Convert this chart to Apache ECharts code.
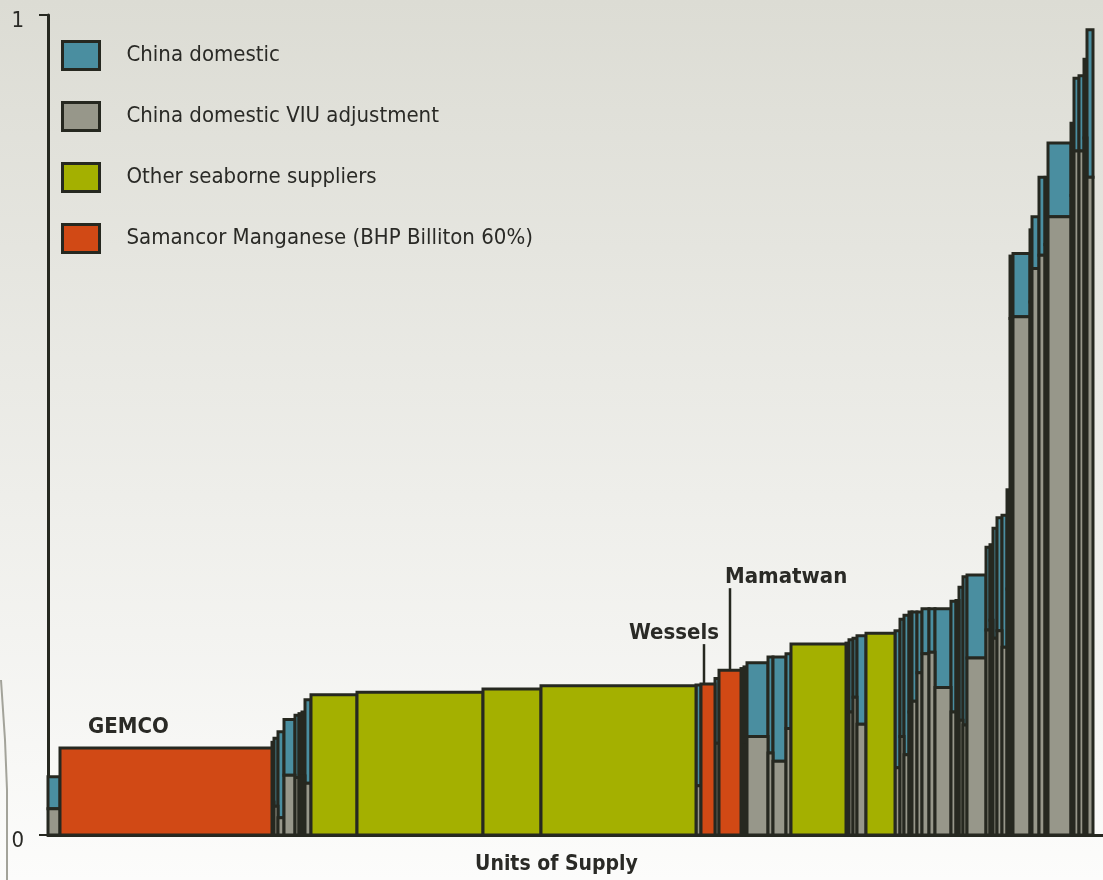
<!DOCTYPE html>
<html>
<head>
<meta charset="utf-8">
<script src="https://cdn.jsdelivr.net/npm/echarts@6/dist/echarts.min.js"></script>
<style>html,body{margin:0;padding:0;}#c{width:1103px;height:880px;}</style>
</head>
<body>
<div id="c"></div>
<script>
// ---- data ----
// supplier group of each block, in cost-curve order
const supplier = ['cd','sam','cd','cd','cd','cd','cd','cd','cd','cd','sea','sea','sea','sea','cd','sam','cd','sam','cd','cd','cd','cd','cd','cd','sea','cd','cd','cd','cd','sea','cd','cd','cd','cd','cd','cd','cd','cd','cd','cd','sea','cd','cd','cd','cd','cd','cd','cd','cd','cd','cd','cd','cd','cd','cd','cd','cd','cd','cd','cd','cd','cd'];
// width of each block (units of supply)
const supply = [1.2,21.2,0.2,0.4,0.6,1.1,0.4,0.3,0.3,0.6,4.6,12.6,5.8,15.5,0.5,1.4,0.4,2.2,0.3,0.3,2.1,0.5,1.3,0.5,5.5,0.3,0.4,0.4,0.9,2.9,0.5,0.4,0.5,0.3,0.5,0.5,0.7,0.6,1.6,0.5,0.3,0.4,0.4,1.9,0.4,0.3,0.4,0.5,0.5,0.3,0.3,1.7,0.2,0.7,0.6,0.3,2.3,0.3,0.5,0.5,0.3,0.6];
// China domestic VIU adjustment part (bottom of China domestic blocks)
const viuCost = [0.032,0,0.040,0.035,0.021,0.073,0.070,0.068,0.072,0.063,0,0,0,0,0.060,0,0.112,0,0.100,0.110,0.120,0.100,0.090,0.130,0,0.145,0.150,0.168,0.135,0,0.082,0.120,0.098,0.150,0.163,0.198,0.221,0.223,0.180,0.150,0,0.140,0.134,0.216,0.250,0.262,0.240,0.249,0.229,0.300,0.630,0.632,0.650,0.691,0.707,0.720,0.754,0.780,0.834,0.834,0.850,0.802];
// total cost of each block
const totalCost = [0.071,0.106,0.113,0.118,0.126,0.141,0.146,0.148,0.150,0.165,0.171,0.174,0.178,0.182,0.183,0.184,0.191,0.201,0.203,0.205,0.210,0.217,0.217,0.221,0.233,0.234,0.238,0.240,0.243,0.246,0.249,0.263,0.268,0.272,0.272,0.272,0.276,0.276,0.276,0.285,0.286,0.302,0.315,0.317,0.351,0.354,0.374,0.387,0.390,0.421,0.706,0.709,0.738,0.754,0.802,0.802,0.844,0.868,0.923,0.926,0.946,0.982];
// named operations
const opNames = ['GEMCO','Wessels','Mamatwan'];
const opIndex = [1,15,17];
const seriesNames = ['China domestic','China domestic VIU adjustment','Other seaborne suppliers','Samancor Manganese (BHP Billiton 60%)'];
const yTicks = [0,1];

// ---- styles ----
const FONT = "'Liberation Sans Narrow','DejaVu Sans Condensed','Liberation Sans',sans-serif";
const colors = ['#4a8ea0','#97978a','#a4b000','#d14915'];
const edge = '#262820';
const labelLayout = {
  GEMCO: {mode:'above', dx:28, dy:-10},
  Wessels: {mode:'leaderLeft', dx:-5, len:40},
  Mamatwan: {mode:'leaderRight', dx:0, len:82}
};

// ---- build blocks ----
const cd = [], viu = [], sea = [], sam = [];
let acc = 0;
for (let i = 0; i < supply.length; i++) {
  const x0 = acc, x1 = acc + supply[i];
  acc = x1;
  if (supplier[i] === 'cd') {
    viu.push([x0, x1, 0, viuCost[i]]);
    cd.push([x0, x1, viuCost[i], totalCost[i]]);
  } else if (supplier[i] === 'sea') {
    sea.push([x0, x1, 0, totalCost[i]]);
  } else {
    const k = opIndex.indexOf(i);
    sam.push([x0, x1, 0, totalCost[i], k >= 0 ? opNames[k] : '']);
  }
}

function blockRect(api, fill) {
  const p0 = api.coord([api.value(0), api.value(2)]);
  const p1 = api.coord([api.value(1), api.value(3)]);
  return {
    type: 'rect',
    shape: {x: p0[0], y: p1[1], width: p1[0] - p0[0], height: p0[1] - p1[1]},
    style: {fill: fill, stroke: edge, lineWidth: 3}
  };
}
function renderFor(color) {
  return function (params, api) { return blockRect(api, color); };
}
function renderSam(params, api) {
  const r = blockRect(api, colors[3]);
  const name = sam[params.dataIndex][4];
  if (!name) return r;
  const lay = labelLayout[name];
  const s = r.shape;
  const children = [r];
  const tstyle = {fontFamily: FONT, fontSize: 22, fontWeight: 'bold', fill: '#2a2a26'};
  if (lay.mode === 'above') {
    children.push({type:'text', x: s.x + lay.dx, y: s.y + lay.dy,
      style: Object.assign({text: name, textAlign:'left', textVerticalAlign:'bottom'}, tstyle)});
  } else {
    const lx = lay.mode === 'leaderLeft' ? s.x + 3 : s.x + s.width / 2;
    const top = s.y - lay.len;
    children.push({type:'line', shape:{x1: lx, y1: s.y, x2: lx, y2: top}, style:{stroke: edge, lineWidth: 2.5}});
    children.push({type:'text', x: lay.mode === 'leaderLeft' ? lx + 15 : lx - 5, y: top,
      style: Object.assign({text: name, textAlign: lay.mode === 'leaderLeft' ? 'right' : 'left', textVerticalAlign:'bottom'}, tstyle)});
  }
  return {type:'group', children: children};
}

const chart = echarts.init(document.getElementById('c'), null, {renderer:'canvas'});
const xMax = 105.5;
chart.setOption({
  backgroundColor: {type:'linear', x:0, y:0, x2:0, y2:1, colorStops:[{offset:0,color:'#dcdcd4'},{offset:1,color:'#fcfcfb'}]},
  animation: false,
  grid: {left: 48, right: 0, top: 15, bottom: 45},
  legend: {
    orient: 'vertical', left: 61, top: 40, padding: 0,
    itemWidth: 37, itemHeight: 28, itemGap: 30,
    selectedMode: false,
    textStyle: {fontFamily: FONT, fontSize: 22, color: '#2a2a26', padding: [0,0,0,22]},
    data: seriesNames.map((n, i) => ({name: n, icon: 'rect', itemStyle: {color: colors[i], borderColor: edge, borderWidth: 3}}))
  },
  xAxis: {
    type: 'value', min: 0, max: xMax,
    axisLine: {show: true, lineStyle: {color: edge, width: 3}},
    axisTick: {show: false}, axisLabel: {show: false}, splitLine: {show: false},
    name: 'Units of Supply', nameLocation: 'middle', nameGap: 19,
    nameTextStyle: {fontFamily: FONT, fontSize: 21, fontWeight: 'bold', color: '#2a2a26', padding: [0, 38, 0, 0]}
  },
  yAxis: {
    type: 'value', min: yTicks[0], max: yTicks[1], interval: 1,
    axisLine: {show: true, lineStyle: {color: edge, width: 3}},
    axisTick: {show: true, length: 9, lineStyle: {color: edge, width: 2}},
    axisLabel: {fontFamily: FONT, fontSize: 22, color: '#2a2a26', margin: 24, verticalAlign: 'top', padding:[-5,0,0,0]},
    splitLine: {show: false}
  },
  graphic: [{type:'polyline', shape:{points:[[1,680],[5,740],[7,790],[7,880]]}, style:{stroke:'#a3a39a', lineWidth:2, fill:null}}],
  series: [
    {type:'custom', name: seriesNames[0], renderItem: renderFor(colors[0]), data: cd, encode:{x:[0,1], y:[2,3]}, itemStyle:{color: colors[0]}},
    {type:'custom', name: seriesNames[1], renderItem: renderFor(colors[1]), data: viu, encode:{x:[0,1], y:[2,3]}, itemStyle:{color: colors[1]}},
    {type:'custom', name: seriesNames[2], renderItem: renderFor(colors[2]), data: sea, encode:{x:[0,1], y:[2,3]}, itemStyle:{color: colors[2]}},
    {type:'custom', name: seriesNames[3], renderItem: renderSam, data: sam, encode:{x:[0,1], y:[2,3]}, itemStyle:{color: colors[3]}}
  ]
});
</script>
</body>
</html>
